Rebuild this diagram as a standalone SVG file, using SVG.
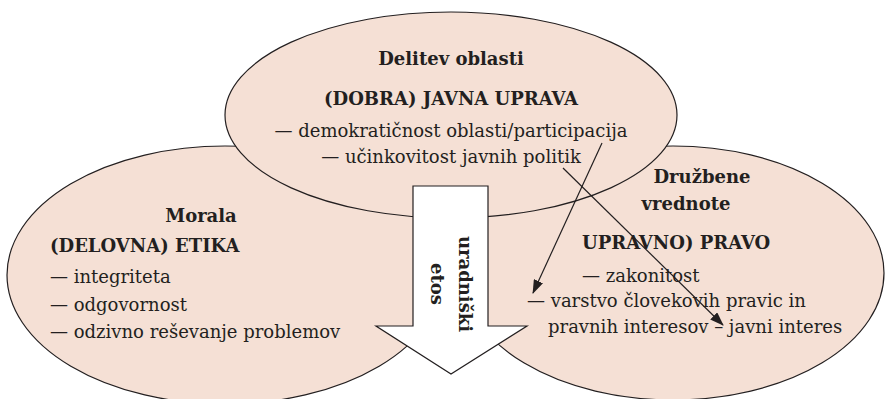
<svg xmlns="http://www.w3.org/2000/svg" width="885" height="399" viewBox="0 0 885 399">
<style>
.sh{fill:#f5e0d5;stroke:#231f20;stroke-width:1.2}
.ar{fill:#ffffff;stroke:#231f20;stroke-width:1.2}
.b{font-family:"DejaVu Serif",serif;font-weight:bold;font-size:18px;fill:#231f20}
.t{font-family:"DejaVu Serif",serif;font-size:18px;fill:#231f20}
.m{text-anchor:middle}
.cn{fill:none;stroke:#231f20;stroke-width:1.2}
</style>
<defs>
<marker id="ah" viewBox="0 0 14 10" refX="13" refY="5" markerWidth="14" markerHeight="10" markerUnits="userSpaceOnUse" orient="auto">
<path d="M0,0 L14,5 L0,10 Z" fill="#231f20"/>
</marker>
</defs>
<rect width="885" height="399" fill="#ffffff"/>
<g id="etika">
<ellipse class="sh" cx="225" cy="275" rx="218" ry="129"/>
<text class="b m" x="201" y="222">Morala</text>
<text class="b" x="50" y="252">(DELOVNA) ETIKA</text>
<text class="t" x="50" y="283">— integriteta</text>
<text class="t" x="50" y="311">— odgovornost</text>
<text class="t" x="50" y="338">— odzivno reševanje problemov</text>
</g>
<g id="pravo">
<ellipse class="sh" cx="673" cy="273" rx="211" ry="127"/>
<text class="b m" x="702" y="183">Družbene</text>
<text class="b m" x="686" y="210">vrednote</text>
<text class="b" x="582" y="249">UPRAVNO) PRAVO</text>
<text class="t" x="582" y="282">— zakonitost</text>
<text class="t" x="527" y="307">— varstvo človekovih pravic in</text>
<text class="t" x="548" y="333">pravnih interesov – javni interes</text>
</g>
<g id="uprava">
<ellipse class="sh" cx="451" cy="115" rx="226" ry="103"/>
<text class="b m" x="451" y="65">Delitev oblasti</text>
<text class="b m" x="451" y="105">(DOBRA) JAVNA UPRAVA</text>
<text class="t m" x="451" y="137">— demokratičnost oblasti/participacija</text>
<text class="t m" x="451" y="163">— učinkovitost javnih politik</text>
</g>
<g id="etos">
<polygon class="ar" points="413,186 488,186 488,326 527,326 451,374 376,326 413,326"/>
<text class="b m" transform="translate(459,284) rotate(90)">uradniški</text>
<text class="b m" transform="translate(431,284) rotate(90)">etos</text>
</g>
<g id="connectors">
<line class="cn" x1="602" y1="143" x2="533" y2="293" marker-end="url(#ah)"/>
<line class="cn" x1="563" y1="168" x2="723" y2="325" marker-end="url(#ah)"/>
</g>
</svg>
